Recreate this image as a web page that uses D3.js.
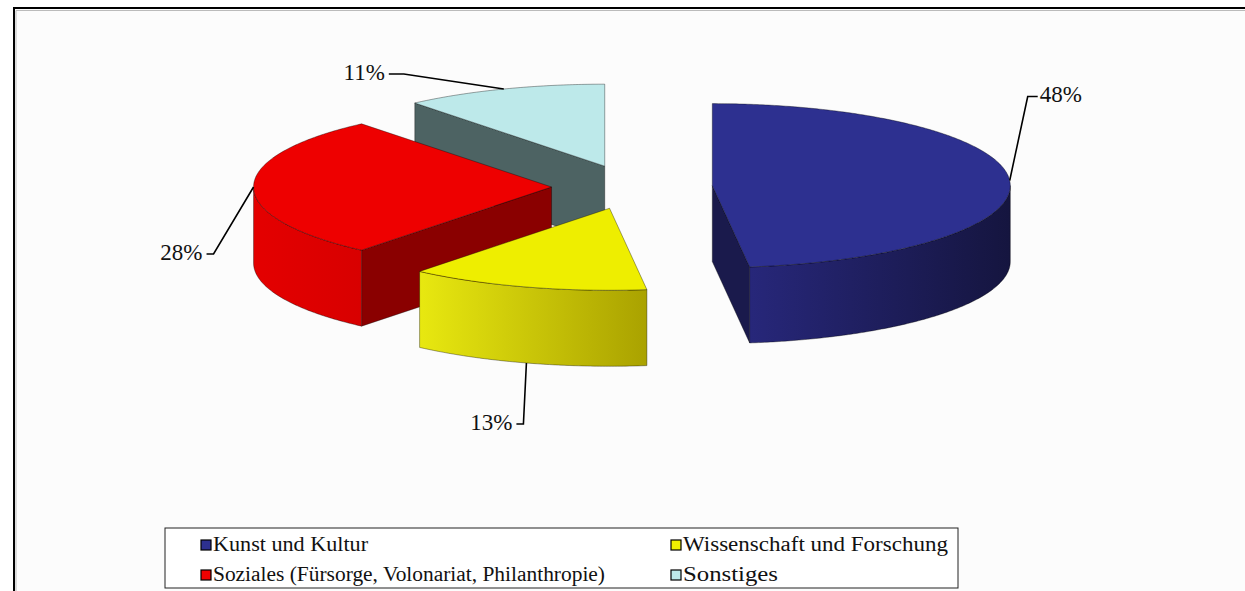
<!DOCTYPE html>
<html>
<head>
<meta charset="utf-8">
<script src="https://cdn.jsdelivr.net/npm/d3@7"></script>
<style>
  body { margin: 0; background: #fff; }
  text { font-family: "Liberation Serif", "DejaVu Serif", serif; fill: #111; }
</style>
</head>
<body>
<div id="chart"></div>
<script>
// data
const categories = ['Kunst und Kultur', 'Wissenschaft und Forschung',
                    'Soziales (Fürsorge, Volonariat, Philanthropie)', 'Sonstiges'];
const values = [48, 13, 28, 11];
const pctLabels = ['48%', '13%', '28%', '11%'];
const topColors = ['#2d3090', '#eeee00', '#ee0000', '#bde9ea'];
const sideLeft = ['#27277a', '#e8e810', '#e40000', '#4d6363'];
const sideRight = ['#15153f', '#aaa200', '#d80000', '#4d6363'];
const wallColors = ['#1a1a4c', '#b8b000', '#8a0000', '#4d6363'];
const legendColors = ['#2d3090', '#eeee00', '#ee0000', '#bde9ea'];

function draw() {
    let width = 1245, height = 591,
        svg = d3.select('#chart').append('svg')
                .attr('width', width).attr('height', height);

    // chart frame
    svg.append('rect').attr('x', 14).attr('y', 8)
       .attr('width', width).attr('height', height)
       .attr('fill', '#fcfcfc').attr('stroke', '#000').attr('stroke-width', 2);
    svg.append('path').attr('d', `M16,${height} V10.5 H${width}`)
       .attr('fill', 'none').attr('stroke', '#bbb').attr('stroke-width', 1);

    // pie geometry
    let cx = 632, cy = 187, rx = 298, ry = 82, depth = 76, explode = 0.27;
    let pie = d3.pie().sort(null).value(d => d)(values);

    let defs = svg.append('defs');
    pie.forEach((p, i) => {
        let g = defs.append('linearGradient').attr('id', 'side-' + i)
                    .attr('x1', 0).attr('x2', 1).attr('y1', 0).attr('y2', 0);
        g.append('stop').attr('offset', '0%').attr('stop-color', sideLeft[i]);
        g.append('stop').attr('offset', '100%').attr('stop-color', sideRight[i]);
    });

    let slices = pie.map((p, i) => {
        let mid = (p.startAngle + p.endAngle) / 2;
        return {
            i: i, a0: p.startAngle, a1: p.endAngle, mid: mid,
            x: cx + Math.sin(mid) * explode * rx,
            y: cy - Math.cos(mid) * explode * ry
        };
    });

    function pt(s, a, z) {
        return [s.x + Math.sin(a) * rx, s.y - Math.cos(a) * ry + z];
    }
    function arcPts(s, a0, a1, z) {
        let n = Math.max(2, Math.ceil((a1 - a0) / 0.01)), out = [];
        for (let k = 0; k <= n; k++) out.push(pt(s, a0 + (a1 - a0) * k / n, z));
        return out;
    }
    let line = d3.line();

    let plot = svg.append('g');
    slices.slice().sort((a, b) => a.y - b.y).forEach(s => {
        let g = plot.append('g');
        // radial walls facing the viewer
        [[s.a0, Math.sin(s.a0) < -1e-6], [s.a1, Math.sin(s.a1) > 1e-6]].forEach(([a, vis]) => {
            if (!vis) return;
            let p = pt(s, a, 0);
            g.append('path')
             .attr('d', line([[s.x, s.y], p, [p[0], p[1] + depth], [s.x, s.y + depth]]) + 'Z')
             .attr('fill', wallColors[s.i])
             .attr('stroke', 'rgba(0,0,0,0.45)').attr('stroke-width', 0.8);
        });
        // outer wall (front half only)
        let f0 = Math.max(s.a0, Math.PI / 2), f1 = Math.min(s.a1, Math.PI * 1.5);
        if (f1 > f0) {
            let top = arcPts(s, f0, f1, 0), bot = arcPts(s, f0, f1, depth).reverse();
            g.append('path').attr('d', line(top.concat(bot)) + 'Z')
             .attr('fill', `url(#side-${s.i})`)
             .attr('stroke', 'rgba(0,0,0,0.45)').attr('stroke-width', 0.8);
        }
        // top face
        g.append('path')
         .attr('d', line([[s.x, s.y]].concat(arcPts(s, s.a0, s.a1, 0))) + 'Z')
         .attr('fill', topColors[s.i])
         .attr('stroke', 'rgba(0,0,0,0.45)').attr('stroke-width', 0.8);
    });

    // leader lines and labels: elbow offset from anchor, text side
    let leaderLayout = [
        {dx: 18, dy: -84, tail: 10},
        {dx: -3, dy: 61, tail: -7},
        {dx: -40, dy: 67, tail: -7},
        {dx: -100, dy: -15, tail: -15}
    ];
    let labels = svg.append('g');
    slices.forEach(s => {
        let front = Math.cos(s.mid) < -0.5,
            anchor = pt(s, s.mid, front ? depth : 0),
            lay = leaderLayout[s.i],
            elbow = [anchor[0] + lay.dx, anchor[1] + lay.dy],
            end = [elbow[0] + lay.tail, elbow[1]];
        labels.append('path').attr('d', line([anchor, elbow, end]))
              .attr('fill', 'none').attr('stroke', '#000').attr('stroke-width', 1.6);
        labels.append('text')
              .attr('x', end[0] + (lay.tail > 0 ? 2 : -4))
              .attr('y', end[1] + 6)
              .attr('text-anchor', lay.tail > 0 ? 'start' : 'end')
              .attr('font-size', 23)
              .text(pctLabels[s.i]);
    });

    // legend
    let legend = svg.append('g').attr('transform', 'translate(165, 528)');
    legend.append('rect').attr('width', 793).attr('height', 60)
          .attr('fill', '#fff').attr('stroke', '#222').attr('stroke-width', 1);
    let legendWidths = [155, 265, 392, 95];
    let item = legend.selectAll('g.item').data(categories).enter().append('g')
                     .attr('class', 'item')
                     .attr('transform', (d, i) => `translate(${i % 2 === 0 ? 36 : 506}, ${i < 2 ? 12 : 42})`);
    // legend order: Kunst, Wissenschaft / Soziales, Sonstiges
    item.append('rect').attr('width', 10).attr('height', 10)
        .attr('fill', (d, i) => legendColors[i])
        .attr('stroke', '#000').attr('stroke-width', 1.2);
    item.append('text').attr('x', 12).attr('y', 11)
        .attr('font-size', 20)
        .attr('textLength', (d, i) => legendWidths[i])
        .attr('lengthAdjust', 'spacingAndGlyphs')
        .text(d => d);
}
draw();
</script>
</body>
</html>
